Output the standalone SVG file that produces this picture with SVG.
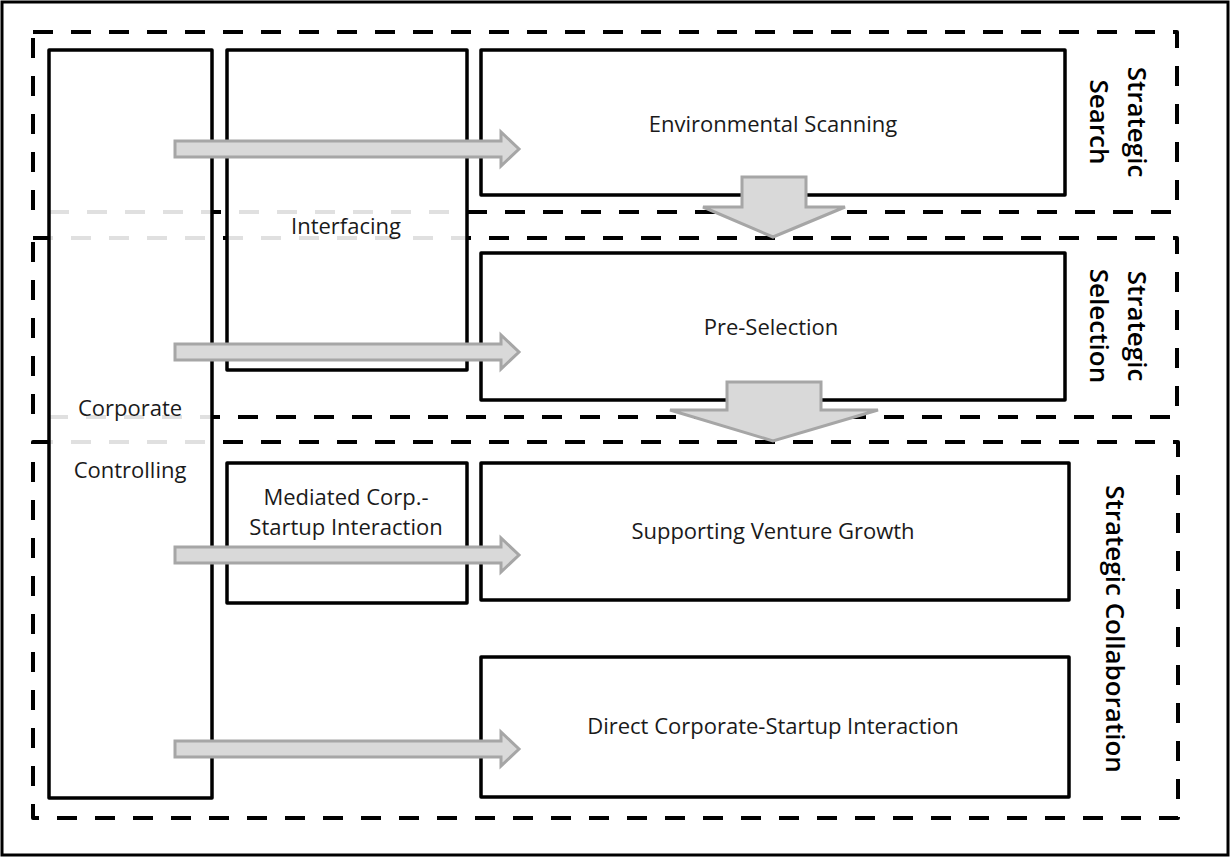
<svg xmlns="http://www.w3.org/2000/svg" width="1231" height="857" viewBox="0 0 1231 857">
<style>
.frame{fill:#fff;stroke:#000;stroke-width:3}
.sec{fill:none;stroke:#000;stroke-width:4;stroke-dasharray:20 18;stroke-linejoin:round}
.box{fill:#fff;fill-opacity:0.88;stroke:#000;stroke-width:3.5;stroke-linejoin:round}
.arr{fill:#d9d9d9;stroke:#a6a6a6;stroke-width:3;stroke-linejoin:miter}
.t{font-family:"Open Sans","Liberation Sans",sans-serif;font-size:22px;fill:#1a1a1a;text-anchor:middle;dominant-baseline:central}
.v{font-family:"Open Sans","Liberation Sans",sans-serif;font-size:26px;font-weight:600;fill:#000;text-anchor:middle;dominant-baseline:central}
</style>
<rect class="frame" x="2" y="2" width="1226" height="853"/>
<g id="sections">
<g id="strategic-search">
<rect class="sec" x="33" y="32" width="1144" height="180"/>
<text class="v" transform="translate(1138,122) rotate(90)">Strategic</text>
<text class="v" transform="translate(1100,122) rotate(90)">Search</text>
</g>
<g id="strategic-selection">
<rect class="sec" x="33" y="238" width="1144" height="179"/>
<text class="v" transform="translate(1138,326) rotate(90)">Strategic</text>
<text class="v" transform="translate(1100,326) rotate(90)">Selection</text>
</g>
<g id="strategic-collaboration">
<rect class="sec" x="33" y="442" width="1145" height="376"/>
<text class="v" transform="translate(1116,629) rotate(90)">Strategic Collaboration</text>
</g>
</g>
<g id="corporate-controlling">
<rect class="box" x="49" y="50" width="163" height="748"/>
<text class="t" x="130" y="407">Corporate</text>
<text class="t" x="130" y="469">Controlling</text>
</g>
<g id="interfacing">
<rect class="box" x="227" y="50" width="240" height="320"/>
<text class="t" x="346" y="225">Interfacing</text>
</g>
<g id="environmental-scanning">
<rect class="box" x="481" y="50" width="584" height="145"/>
<text class="t" x="773" y="123">Environmental Scanning</text>
</g>
<g id="pre-selection">
<rect class="box" x="481" y="253" width="584" height="147"/>
<text class="t" x="771" y="326">Pre-Selection</text>
</g>
<g id="mediated-interaction">
<rect class="box" x="227" y="463" width="240" height="140"/>
<text class="t" x="346" y="496">Mediated Corp.-</text>
<text class="t" x="346" y="526">Startup Interaction</text>
</g>
<g id="supporting-venture-growth">
<rect class="box" x="481" y="463" width="588" height="137"/>
<text class="t" x="773" y="530">Supporting Venture Growth</text>
</g>
<g id="direct-interaction">
<rect class="box" x="481" y="657" width="588" height="140"/>
<text class="t" x="773" y="725">Direct Corporate-Startup Interaction</text>
</g>
<g id="connectors">
<path class="arr" d="M175,141 H501 V132 L519,149 L501,166 V157 H175 Z"/>
<path class="arr" d="M175,344 H501 V335 L519,352 L501,369 V360 H175 Z"/>
<path class="arr" d="M175,547 H501 V538 L519,555 L501,572 V563 H175 Z"/>
<path class="arr" d="M175,741 H501 V732 L519,749 L501,766 V757 H175 Z"/>
<path class="arr" d="M742,177 H806 V207 H845 L773,237 L703,207 H742 Z"/>
<path class="arr" d="M727,382 H821 V410 H878 L773,441 L670,410 H727 Z"/>
</g>
</svg>
